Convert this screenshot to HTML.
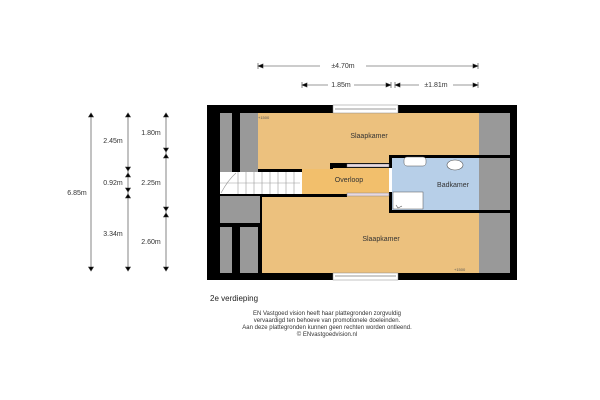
<!DOCTYPE html>
<html><head><meta charset="utf-8"><style>
html,body{margin:0;padding:0;background:#fff}
svg{display:block}
text{font-family:"Liberation Sans",sans-serif}
</style></head><body>
<svg width="600" height="400" viewBox="0 0 600 400" xmlns="http://www.w3.org/2000/svg">
<rect width="600" height="400" fill="#fff"/>
<rect x="207" y="105" width="310" height="175" fill="#000"/>
<rect x="220" y="113" width="12" height="60" fill="#999"/>
<rect x="240" y="113" width="18" height="60" fill="#999"/>
<rect x="258" y="113" width="221" height="50" fill="#ecc17e"/>
<rect x="479" y="113" width="31" height="160" fill="#999"/>
<rect x="302" y="168" width="87" height="26" fill="#f2bf6c"/>
<rect x="258" y="163" width="72" height="6" fill="#ecc17e"/>
<rect x="330" y="163" width="59" height="3" fill="#000"/>
<rect x="330" y="163" width="3" height="6" fill="#000"/>
<rect x="220" y="172" width="82" height="22" fill="#fff"/>
<g stroke="#999" stroke-width="0.6">
<line x1="220" y1="183" x2="300" y2="183"/>
<line x1="238" y1="172" x2="238" y2="194"/><line x1="246" y1="172" x2="246" y2="194"/><line x1="254" y1="172" x2="254" y2="194"/><line x1="262" y1="172" x2="262" y2="194"/><line x1="270" y1="172" x2="270" y2="194"/><line x1="278" y1="172" x2="278" y2="194"/><line x1="286" y1="172" x2="286" y2="194"/><line x1="294" y1="172" x2="294" y2="194"/>
<path d="M221 193 Q228 180 236 173" fill="none"/>
</g>
<rect x="220" y="196" width="40" height="27" fill="#999"/>
<rect x="220" y="227" width="12" height="46" fill="#999"/>
<rect x="240" y="227" width="18" height="46" fill="#999"/>
<rect x="262" y="196" width="217" height="77" fill="#ecc17e"/>
<rect x="262" y="194" width="85" height="3" fill="#000"/>
<!-- bathroom -->
<rect x="389" y="155" width="128" height="58" fill="#000"/>
<rect x="392" y="158" width="87" height="52" fill="#b7cfe8"/>
<rect x="479" y="158" width="31" height="52" fill="#999"/>
<rect x="404" y="157" width="22" height="9" rx="3" fill="#fff" stroke="#555" stroke-width="0.5"/>
<ellipse cx="455" cy="165" rx="8" ry="5" fill="#fff" stroke="#555" stroke-width="0.6"/>
<rect x="393" y="192" width="30" height="17" fill="#fff" stroke="#555" stroke-width="0.5"/>
<path d="M396 205 l2 3 l4 -2" fill="none" stroke="#555" stroke-width="0.6"/>
<rect x="389" y="168" width="3" height="24" fill="#fff"/>
<rect x="347" y="164" width="42" height="3" fill="#e8d9e0" stroke="#777" stroke-width="0.4"/>
<rect x="347" y="193" width="42" height="3" fill="#e8d9e0" stroke="#777" stroke-width="0.4"/>
<rect x="333" y="105" width="65" height="8" fill="#fff" stroke="#888" stroke-width="0.5"/>
<line x1="335" y1="109" x2="396" y2="109" stroke="#777" stroke-width="0.8"/>
<rect x="333" y="273" width="65" height="7" fill="#fff" stroke="#888" stroke-width="0.5"/>
<line x1="335" y1="276" x2="396" y2="276" stroke="#777" stroke-width="0.8"/>
<g font-size="7" fill="#333" text-anchor="middle">
<text x="369" y="138">Slaapkamer</text>
<text x="349" y="182">Overloop</text>
<text x="453" y="187">Badkamer</text>
<text x="381" y="241">Slaapkamer</text>
</g>
<text x="258" y="119" font-size="4" fill="#555">+1500</text>
<text x="454" y="271" font-size="4" fill="#555">+1500</text>
<g stroke="#333" stroke-width="0.6" fill="#000">
<line x1="258" y1="66" x2="478" y2="66"/>
<line x1="258" y1="63" x2="258" y2="69"/><line x1="478" y1="63" x2="478" y2="69"/>
<path d="M258 66 l5 -2 v4z"/><path d="M478 66 l-5 -2 v4z"/>
<line x1="302" y1="85" x2="391" y2="85"/><line x1="395" y1="85" x2="478" y2="85"/>
<line x1="302" y1="82" x2="302" y2="88"/><line x1="391" y1="82" x2="391" y2="88"/><line x1="395" y1="82" x2="395" y2="88"/><line x1="478" y1="82" x2="478" y2="88"/>
<path d="M302 85 l5 -2 v4z"/><path d="M391 85 l-5 -2 v4z"/><path d="M395 85 l5 -2 v4z"/><path d="M478 85 l-5 -2 v4z"/>
<line x1="91" y1="113" x2="91" y2="271"/>
<line x1="128" y1="113" x2="128" y2="271"/>
<line x1="166" y1="113" x2="166" y2="271"/>
<path d="M91 113 l-2.5 4 h5z"/><path d="M91 271 l-2.5 -4 h5z"/>
<path d="M128 113 l-2.5 4 h5z"/><path d="M128 271 l-2.5 -4 h5z"/>
<path d="M166 113 l-2.5 4 h5z"/><path d="M166 271 l-2.5 -4 h5z"/>
<path d="M128 171 l-2.5 -4 h5z"/><path d="M128 173 l-2.5 4 h5z"/>
<path d="M128 192 l-2.5 -4 h5z"/><path d="M128 194 l-2.5 4 h5z"/>
<path d="M166 152 l-2.5 -4 h5z"/><path d="M166 154 l-2.5 4 h5z"/>
<path d="M166 211 l-2.5 -4 h5z"/><path d="M166 213 l-2.5 4 h5z"/>
</g>
<g font-size="7" fill="#333">
<rect x="320" y="61" width="46" height="9" fill="#fff"/>
<text x="343" y="68" text-anchor="middle">±4.70m</text>
<rect x="328" y="80" width="26" height="9" fill="#fff"/>
<text x="341" y="87" text-anchor="middle">1.85m</text>
<rect x="419" y="80" width="34" height="9" fill="#fff"/>
<text x="436" y="87" text-anchor="middle">±1.81m</text>
<text x="77" y="195" text-anchor="middle">6.85m</text>
<text x="113" y="143" text-anchor="middle">2.45m</text>
<text x="113" y="185" text-anchor="middle">0.92m</text>
<text x="113" y="236" text-anchor="middle">3.34m</text>
<text x="151" y="135" text-anchor="middle">1.80m</text>
<text x="151" y="185" text-anchor="middle">2.25m</text>
<text x="151" y="244" text-anchor="middle">2.60m</text>
</g>
<text x="210" y="301" font-size="8" fill="#222">2e verdieping</text>
<g font-size="6" fill="#333" text-anchor="middle">
<text x="327" y="315">EN Vastgoed vision heeft haar plattegronden zorgvuldig</text>
<text x="327" y="322">vervaardigd ten behoeve van promotionele doeleinden.</text>
<text x="327" y="329">Aan deze plattegronden kunnen geen rechten worden ontleend.</text>
<text x="327" y="336">© ENvastgoedvision.nl</text>
</g>
</svg>
</body></html>
